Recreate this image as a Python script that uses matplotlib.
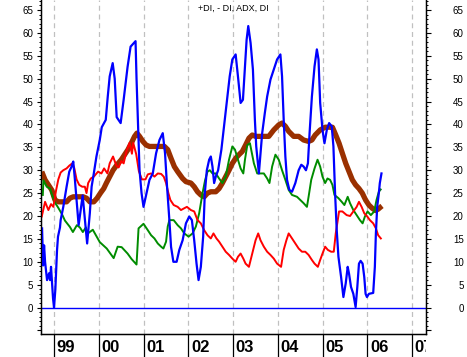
import numpy as np
import matplotlib
matplotlib.use('Agg')
import matplotlib.pyplot as plt
from matplotlib.ticker import MultipleLocator
from matplotlib.transforms import Bbox

# DI (blue)
di_x = [1998.733, 1998.756, 1998.778, 1998.80, 1998.844, 1998.889, 1998.911, 1998.933,
        1998.956, 1998.978, 1999.0, 1999.03, 1999.067, 1999.089, 1999.133, 1999.148,
        1999.207, 1999.281, 1999.341, 1999.393, 1999.43, 1999.467, 1999.504, 1999.55,
        1999.64, 1999.74, 1999.80, 1999.84, 1999.889, 1999.948, 2000.022, 2000.067,
        2000.156, 2000.2, 2000.244, 2000.311, 2000.356, 2000.4, 2000.489, 2000.556,
        2000.644, 2000.711, 2000.822, 2000.844, 2000.911, 2000.956, 2001.0, 2001.133,
        2001.207, 2001.281, 2001.356, 2001.43, 2001.481, 2001.526, 2001.578, 2001.615,
        2001.667, 2001.74, 2001.8, 2001.874, 2001.948, 2002.022, 2002.081, 2002.133,
        2002.185, 2002.23, 2002.281, 2002.333, 2002.37, 2002.415, 2002.467, 2002.504,
        2002.541, 2002.578, 2002.615, 2002.667, 2002.74, 2002.8, 2002.859, 2002.926,
        2002.985, 2003.059, 2003.118, 2003.17, 2003.222, 2003.259, 2003.304, 2003.341,
        2003.393, 2003.445, 2003.489, 2003.519, 2003.578, 2003.615, 2003.652, 2003.711,
        2003.763, 2003.837, 2003.911, 2003.985, 2004.059, 2004.096, 2004.133, 2004.17,
        2004.207, 2004.259, 2004.319, 2004.393, 2004.467, 2004.526, 2004.578, 2004.63,
        2004.674, 2004.711, 2004.763, 2004.822, 2004.874, 2004.911, 2004.948, 2005.0,
        2005.044, 2005.096, 2005.148, 2005.207, 2005.244, 2005.281, 2005.318, 2005.356,
        2005.415, 2005.467, 2005.519, 2005.563, 2005.593, 2005.637, 2005.689, 2005.74,
        2005.778, 2005.815, 2005.852, 2005.896, 2005.933, 2005.963, 2005.993, 2006.037,
        2006.133, 2006.17, 2006.193, 2006.222, 2006.259, 2006.281, 2006.318]
di_y = [17.3, 9.2, 13.6, 10, 6, 7.5, 6, 8.9,
        5.3, 2, 0, 4, 12.5, 15.5, 17.5, 19.1,
        22, 26.4, 29.7, 30.8, 31.9, 27.9, 23.5, 18,
        24.5, 14, 20.6, 26.4, 29.3, 33, 36.6, 39.4,
        41, 46, 50.5, 53.4, 50, 41.6, 40.3, 45.4,
        52.6, 57, 58.2, 50, 30, 25, 22, 27.9,
        29.3, 33.7, 36.6, 38.1, 33.7, 26.4, 19.1, 13.3,
        10, 10, 12.6, 14.7, 18.4, 19.9, 19.1, 14.7,
        9.6, 6, 8.9, 15.5, 25, 30, 32.3, 33,
        30.8, 27.2, 28.6, 30, 34.5, 39.6, 44.7, 50.5,
        54.2, 55.3, 49.8, 44.7, 45.4, 51.2, 58.5, 61.5,
        57.8, 52, 41, 35.2, 29.3, 33.7, 38.1, 42.5,
        46.1, 49.8, 52, 54.2, 55.3, 50.5, 41, 33,
        27.9, 25.7, 25.3, 27.2, 30, 31.2, 30.8, 30,
        31.5, 38.1, 46.1, 52.7, 56.4, 54.2, 44.7, 38.8,
        35.9, 38.8, 40.3, 39.6, 35.2, 25, 16.9, 11.1,
        6.7, 2.3, 5.3, 8.9, 7.4, 4.5, 3, 0.1,
        4.5, 9.6, 10.2, 9.6, 6.7, 3, 2.3, 3,
        3.2, 8.9, 16.2, 22, 25, 27.2, 29.3]

# +DI (red)
pdi_x = [1998.726, 1998.8, 1998.874, 1998.933, 1998.985, 1999.044, 1999.096, 1999.148,
         1999.207, 1999.281, 1999.341, 1999.407, 1999.452, 1999.504, 1999.563, 1999.63,
         1999.689, 1999.726, 1999.763, 1999.822, 1999.889, 1999.985, 2000.059, 2000.119,
         2000.193, 2000.244, 2000.319, 2000.393, 2000.444, 2000.504, 2000.556, 2000.615,
         2000.689, 2000.741, 2000.77, 2000.837, 2000.896, 2000.963, 2001.044, 2001.096,
         2001.17, 2001.244, 2001.319, 2001.393, 2001.452, 2001.504, 2001.556, 2001.6,
         2001.674, 2001.763, 2001.837, 2001.911, 2001.97, 2002.059, 2002.133, 2002.207,
         2002.281, 2002.356, 2002.43, 2002.504, 2002.563, 2002.63, 2002.689, 2002.763,
         2002.837, 2002.911, 2002.985, 2003.059, 2003.111, 2003.17, 2003.23, 2003.281,
         2003.356, 2003.43, 2003.504, 2003.563, 2003.615, 2003.689, 2003.763, 2003.837,
         2003.911, 2003.985, 2004.074, 2004.133, 2004.193, 2004.244, 2004.319, 2004.393,
         2004.467, 2004.541, 2004.615, 2004.689, 2004.763, 2004.822, 2004.896, 2004.948,
         2005.0, 2005.059, 2005.119, 2005.193, 2005.252, 2005.296, 2005.341, 2005.37,
         2005.444, 2005.54, 2005.615, 2005.689, 2005.763, 2005.815, 2005.874, 2005.933,
         2006.0, 2006.059, 2006.133, 2006.193, 2006.244, 2006.304]
pdi_y = [19.9, 23.1, 21.3, 22.6, 22, 25.5, 28, 29.5,
         30, 30.4, 31, 31.5, 30.5, 28, 26.8, 26.4,
         26.4, 25, 27.2, 28.2, 28.6, 29.7, 29.3, 30.4,
         29.3, 31.5, 33, 31, 30.6, 32, 31.5, 34,
         36, 33.6, 36, 33.5, 29.8, 28, 28, 29.1,
         29.3, 28.6, 29.3, 29.2, 28.6, 27.2, 25, 23.5,
         22.4, 22, 21.3, 21.7, 22, 21.3, 21, 19.1,
         18.4, 16.9, 15.8, 15.1, 16.2, 15.1, 14.4, 13.3,
         12.2, 11.5, 10.7, 10, 11.1, 11.8, 10.7, 9.6,
         8.9, 11.8, 14.7, 16.2, 14.7, 13.3, 12.2, 11.5,
         10.7, 9.6, 8.9, 12.6, 14.7, 16.2, 15.1, 14,
         12.9, 12.2, 12.2, 11.5, 10.4, 9.6, 8.9, 10.4,
         11.8, 13.3, 12.6, 12.2, 12.2, 16.2, 19.1, 21,
         21, 20.2, 20, 21, 22, 23.1, 22, 20.6,
         19.9, 19.1, 18.4, 17.3, 15.8, 15.1]

# -DI (green)
mdi_x = [1998.749, 1998.763, 1998.837, 1998.911, 1998.956, 1999.022, 1999.089, 1999.178,
         1999.244, 1999.356, 1999.422, 1999.511, 1999.578, 1999.644, 1999.711, 1999.756,
         1999.867, 2000.022, 2000.178, 2000.333, 2000.422, 2000.511, 2000.644, 2000.733,
         2000.844, 2000.889, 2001.0, 2001.096, 2001.17, 2001.244, 2001.319, 2001.393,
         2001.444, 2001.504, 2001.541, 2001.578, 2001.674, 2001.763, 2001.837, 2001.911,
         2002.007, 2002.096, 2002.17, 2002.244, 2002.319, 2002.378, 2002.43, 2002.481,
         2002.541, 2002.615, 2002.689, 2002.763, 2002.837, 2002.911, 2002.985, 2003.044,
         2003.111, 2003.17, 2003.23, 2003.267, 2003.319, 2003.378, 2003.467, 2003.541,
         2003.689, 2003.763, 2003.815, 2003.874, 2003.948, 2004.022, 2004.096, 2004.17,
         2004.244, 2004.319, 2004.43, 2004.504, 2004.578, 2004.652, 2004.689, 2004.748,
         2004.822, 2004.889, 2004.948, 2005.0, 2005.059, 2005.111, 2005.17, 2005.222,
         2005.267, 2005.356, 2005.43, 2005.489, 2005.563, 2005.615, 2005.689, 2005.763,
         2005.837, 2005.896, 2005.948, 2006.007, 2006.081, 2006.156, 2006.207, 2006.259,
         2006.3]
mdi_y = [24.6, 27.8, 26.4, 26, 24.6, 22.9, 21.9, 20.4,
         19, 17.6, 16.5, 18, 17.5, 16.5, 17.5, 16.2,
         17, 14.3, 12.9, 10.8, 13.3, 13.2, 11.8, 10.6,
         9.4, 17.3, 18.3, 16.9, 15.8, 15.1, 14, 13.3,
         12.9, 14.4, 17.7, 19.1, 19.1, 18, 17.3, 16.2,
         15.5, 16.2, 17.7, 20.6, 25, 27.9, 29.7, 30,
         29.3, 29.3, 28.2, 27.2, 28.6, 32.3, 35.2, 34.5,
         32.3, 30.4, 29.3, 32.3, 35.5, 35.9, 31.5, 29.3,
         29.3, 28.2, 27.2, 30.8, 33.4, 32.3, 30, 27.9,
         25.7, 24.6, 24.2, 23.5, 22.8, 22, 24.2, 27.9,
         30.4, 32.3, 30.8, 28.6, 27.2, 28.2, 27.9, 26.8,
         24.6, 23.9, 23.1, 22.4, 24.2, 22.8, 21.3, 20.2,
         19.1, 18.4, 19.9, 21, 20.2, 21, 23.5, 25.3,
         25.8]

# ADX (brown)
adx_x = [1998.726, 1998.8, 1998.874, 1998.948, 1999.022, 1999.096, 1999.207, 1999.281,
         1999.356, 1999.43, 1999.541, 1999.652, 1999.726, 1999.8, 1999.889, 1999.963,
         2000.037, 2000.111, 2000.17, 2000.244, 2000.319, 2000.407, 2000.504, 2000.578,
         2000.652, 2000.726, 2000.8, 2000.852, 2000.911, 2000.985, 2001.059, 2001.133,
         2001.319, 2001.467, 2001.541, 2001.615, 2001.689, 2001.763, 2001.874, 2001.948,
         2002.059, 2002.133, 2002.207, 2002.281, 2002.356, 2002.43, 2002.504, 2002.615,
         2002.689, 2002.763, 2002.837, 2002.911, 2002.985, 2003.059, 2003.133, 2003.207,
         2003.281, 2003.356, 2003.43, 2003.504, 2003.652, 2003.8, 2003.911, 2004.022,
         2004.096, 2004.17, 2004.244, 2004.356, 2004.467, 2004.578, 2004.689, 2004.763,
         2004.837, 2004.948, 2005.059, 2005.17, 2005.222, 2005.296, 2005.37, 2005.444,
         2005.519, 2005.593, 2005.667, 2005.74, 2005.815, 2005.889, 2005.963, 2006.037,
         2006.111, 2006.185, 2006.244, 2006.304, 2006.33]
adx_y = [29.7, 27.9, 26.8, 25.7, 23.5, 23.1, 23.1, 23.1,
         23.9, 24.2, 24.2, 24.2, 23.9, 23.1, 23.1, 23.9,
         25, 26, 27.2, 28.6, 30, 31.2, 32.3, 33.4,
         34.5, 35.9, 37.4, 38.1, 37.4, 36.3, 35.5, 35.2,
         35.2, 35.2, 34.5, 32.6, 30.8, 29.7, 28.2, 27.5,
         27.2, 26.4, 25.3, 24.6, 24.2, 25, 25.3, 25.3,
         26, 27.2, 28.6, 30, 31.5, 32.6, 33.4, 34.1,
         35.5, 37, 37.7, 37.4, 37.4, 37.4, 38.8, 39.9,
         40.3, 39.6, 38.5, 37.4, 37.4, 36.6, 36.3, 36.6,
         37.7, 38.8, 39.4, 39.4, 39.4, 37.7, 35.9, 33.7,
         31.5, 29.7, 27.9, 26.8, 26, 25, 23.5, 22.4,
         21.7, 21.2, 21.5, 22, 22.2]

years = [1999, 2000, 2001, 2002, 2003, 2004, 2005, 2006, 2007]
year_labels = ['99', '00', '01', '02', '03', '04', '05', '06', '07']

plt.rcParams['font.family'] = ['Liberation Sans', 'DejaVu Sans']

fig = plt.figure(figsize=(4.67, 3.57), dpi=100)
ax = fig.add_axes([41 / 467, 22.7 / 357, 385 / 467, 334.3 / 357])
ax.set_xlim(1998.709, 2007.313)
ax.set_ylim(-5.84, 67.19)

for yr in years:
    ax.axvline(yr, color='#c0c0c0', lw=0.9, ls=(0, (4, 3)), zorder=1)
ax.axhline(0, color='#0000ff', lw=1.0, zorder=2)

ax.plot(adx_x, adx_y, color='#9a3000', lw=3.8, zorder=3, solid_capstyle='butt')
ax.plot(mdi_x, mdi_y, color='#008c00', lw=1.4, zorder=4)
ax.plot(pdi_x, pdi_y, color='#ff0000', lw=1.4, zorder=5)
ax.plot(di_x, di_y, color='#0000ff', lw=1.6, zorder=6)

ax.spines['top'].set_visible(False)
for s in ['left', 'right', 'bottom']:
    ax.spines[s].set_linewidth(1.0)

ax.yaxis.set_major_locator(MultipleLocator(5))
ax.yaxis.set_minor_locator(MultipleLocator(1))
ax.tick_params(axis='y', which='major', direction='out', length=3.2, width=0.8,
               labelsize=7, pad=2.5, left=True, right=False)
ax.tick_params(axis='y', which='minor', direction='out', length=1.6, width=0.7,
               left=True, right=False)
ax.set_yticks(np.arange(-5, 66, 5))
ax.set_yticklabels(['' if v < 0 else str(v) for v in np.arange(-5, 66, 5)])

ax2 = ax.twinx()
ax2.set_ylim(ax.get_ylim())
ax2.spines['top'].set_visible(False)
ax2.yaxis.set_minor_locator(MultipleLocator(1))
ax2.set_yticks(np.arange(-5, 66, 5))
ax2.set_yticklabels(['' if v < 0 else str(v) for v in np.arange(-5, 66, 5)])
ax2.tick_params(axis='y', which='major', direction='out', length=3.6, width=0.8,
                labelsize=7, pad=23.5)
ax2.tick_params(axis='y', which='minor', direction='out', length=1.6, width=0.7)
for lab in ax2.get_yticklabels():
    lab.set_horizontalalignment('right')

ax.set_xticks(years)
ax.set_xticklabels([])
ax.tick_params(axis='x', which='major', direction='out', length=17, width=0.9)

clip = Bbox([[41, 0], [426, 357]])
for yr, lab in zip(years, year_labels):
    t = ax.text(yr + 0.06, -0.040, lab, transform=ax.get_xaxis_transform(),
                ha='left', va='center', fontsize=12, fontweight='bold',
                family=['Liberation Sans Narrow', 'Liberation Sans'], clip_on=True)
    t.set_clip_box(clip)

ax.text(0.5, 0.975, '+DI, - DI, ADX, DI', transform=ax.transAxes,
        ha='center', va='center', fontsize=6.5)

fig.savefig('out.png', dpi=100)
